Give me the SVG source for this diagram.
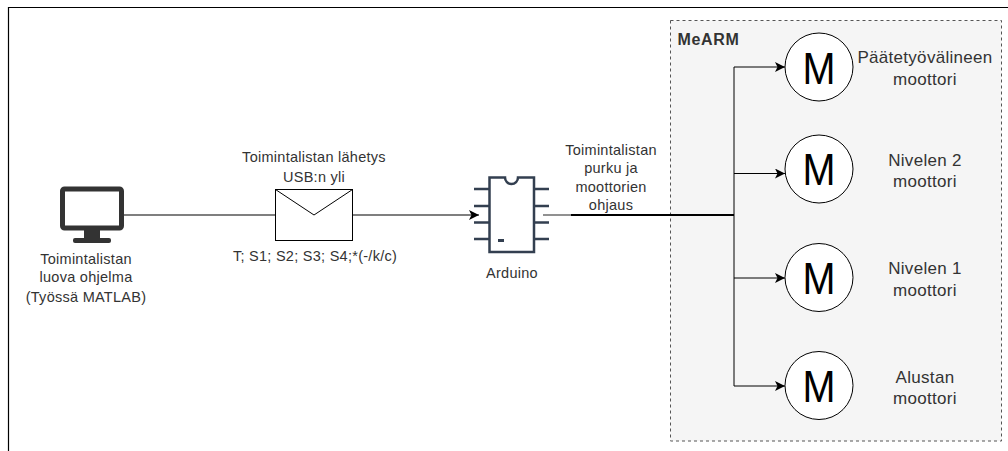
<svg xmlns="http://www.w3.org/2000/svg" width="1008" height="451" viewBox="0 0 1008 451">
<style>
text{font-family:"Liberation Sans",Arial,sans-serif;font-size:14.5px;letter-spacing:.27px;fill:#333;text-anchor:middle}
text.n{font-size:17px;letter-spacing:.3px}
text.m{font-size:45px;fill:#000;letter-spacing:0}
.l{fill:none;stroke:#000;stroke-width:1}
.g{fill:none;stroke:#555;stroke-width:1.3}
.c{fill:#fff;stroke:#000;stroke-width:1}
.p{fill:none;stroke:#333f50;stroke-width:2.5}
</style>
<defs><marker id="a" markerUnits="userSpaceOnUse" markerWidth="11" markerHeight="10" refX="10" refY="5" orient="auto"><path d="M0,0L10,5L0,10L2.5,5Z" fill="#000"/></marker></defs>
<rect width="1008" height="451" fill="#fff"/>
<path d="M8.5,451V7.500H1008" fill="none" stroke="#000" stroke-width="1.2"/>
<g id="mearm"><rect x="670.500" y="20.500" width="331" height="420.500" fill="#f5f5f5" stroke="#555" stroke-dasharray="3 3"/><text x="708.500" y="45" style="font-weight:bold;font-size:16px;letter-spacing:.7px">MeARM</text></g>
<g id="connectors">
<path class="g" d="M123,215H275M352.500,215H470"/>
<path class="l" d="M470,215H479" marker-end="url(#a)"/>
<path class="g" d="M543,215H571"/>
<path d="M571,215H734" fill="none" stroke="#000" stroke-width="2"/>
<path class="l" d="M734,67V386"/>
<path class="l" d="M734,67H785" marker-end="url(#a)"/>
<path class="l" d="M734,173.500H785" marker-end="url(#a)"/>
<path class="l" d="M734,278H785" marker-end="url(#a)"/>
<path class="l" d="M734,386H785" marker-end="url(#a)"/>
</g>
<g id="computer">
<rect x="62.500" y="189" width="59" height="39" rx="2" fill="#fff" stroke="#333" stroke-width="5"/>
<path d="M84,230H100V238H84Z" fill="#333"/><rect x="73" y="238" width="38" height="5" rx="2" fill="#333"/>
<text x="86" y="264">Toimintalistan</text><text x="86" y="282">luova ohjelma</text><text x="86" y="301.500">(Työssä MATLAB)</text>
</g>
<g id="message">
<rect x="275.500" y="189.500" width="77" height="51" fill="#fff" stroke="#000"/>
<path class="l" d="M275.500,189.500L314,215L352.500,189.500"/>
<text x="314" y="162">Toimintalistan lähetys</text><text x="314" y="182">USB:n yli</text>
<text x="315" y="261">T; S1; S2; S3; S4;*(-/k/c)</text>
</g>
<g id="arduino">
<path class="p" d="M489.500,177.500H505A6.500,6.500 0 0 0 518,177.500H534V252H489.500Z"/>
<path class="p" d="M474,189H489M474,206H489M474,222.500H489M474,239H489M534,189H549M534,206H549M534,222.500H549M534,239H549"/>
<rect x="498" y="239" width="6" height="3" fill="#333f50"/>
<text x="512" y="278">Arduino</text>
</g>
<text x="611" y="155">Toimintalistan</text><text x="611" y="173">purku ja</text><text x="611" y="192">moottorien</text><text x="611" y="210">ohjaus</text>
<g id="motor1"><circle class="c" cx="819" cy="67" r="34"/><text class="m" x="819" y="83.500" textLength="33" lengthAdjust="spacingAndGlyphs">M</text><text class="n" x="925" y="63">Päätetyövälineen</text><text class="n" x="925" y="85">moottori</text></g>
<g id="motor2"><circle class="c" cx="819" cy="169" r="34"/><text class="m" x="819" y="185" textLength="33" lengthAdjust="spacingAndGlyphs">M</text><text class="n" x="925" y="165.500">Nivelen 2</text><text class="n" x="925" y="187">moottori</text></g>
<g id="motor3"><circle class="c" cx="819" cy="277.500" r="34"/><text class="m" x="819" y="294" textLength="33" lengthAdjust="spacingAndGlyphs">M</text><text class="n" x="925" y="273.500">Nivelen 1</text><text class="n" x="925" y="295.500">moottori</text></g>
<g id="motor4"><circle class="c" cx="819" cy="385.500" r="34"/><text class="m" x="819" y="402" textLength="33" lengthAdjust="spacingAndGlyphs">M</text><text class="n" x="925" y="382.500">Alustan</text><text class="n" x="925" y="403.500">moottori</text></g>
</svg>
